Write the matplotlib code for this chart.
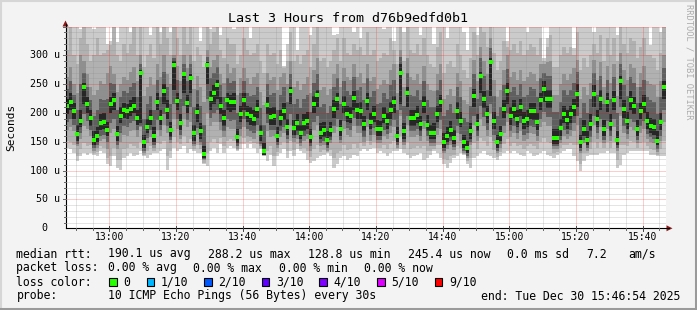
import numpy as np
import matplotlib
matplotlib.use("Agg")
import matplotlib.pyplot as plt
from matplotlib.patches import Rectangle, Polygon

W, H, DPI = 697, 310, 100
MONO = "DejaVu Sans Mono"

title = "Last 3 Hours from d76b9edfd0b1"
span_min = 180.0          # 12:46:54 -> 15:46:54
step_min = 1.0
x_tick_offsets = [13.1, 33.1, 53.1, 73.1, 93.1, 113.1, 133.1, 153.1, 173.1]
x_tick_labels = ["13:00", "13:20", "13:40", "14:00", "14:20", "14:40", "15:00", "15:20", "15:40"]
y_tick_values = [0, 50, 100, 150, 200, 250, 300]
y_tick_labels = ["0", "50 u", "100 u", "150 u", "200 u", "250 u", "300 u"]
y_max = 350.0

# median rtt (microseconds), one per minute
med = [213,220,204,163,187,246,215,191,154,160, 183,184,170,216,222,164,195,205,203,207, 213,191,270,149,175,191,160,219,192,239,
       205,170,283,221,182,267,218,260,166,201, 169,129,283,225,235,248,213,191,222,219, 220,159,199,222,198,195,190,207,166,134,
       214,194,195,160,191,203,175,239,174,182, 166,182,187,159,216,232,166,170,154,170, 207,225,172,216,199,195,226,205,204,181,
       221,185,199,172,172,195,187,205,219,160, 269,168,235,191,191,197,181,216,180,166, 166,199,219,149,160,170,156,204,187,149,
       139,168,230,181,264,225,198,288,187,149, 163,207,239,195,207,190,210,187,190,204, 203,184,222,242,225,225,157,157,174,198,
       188,198,210,233,149,172,154,181,233,190, 225,172,219,181,222,154,255,207,187,222, 213,172,204,216,187,178,175,152,185,245]

# outermost smoke (min / max ping)
smoke_min = [140,137,131,116,125,131,128,131,128,125, 134,131,111,108,125,105,102,122,125,131, 125,128,134,125,122,128,131,131,134,137,
             102,122,140,134,137,143,131,137,134,131, 131,111,108,134,140,131,146,131,140,143, 140,134,137,146,140,146,140,131,137,125,
             116,128,108,125,131,137,122,134,125,137, 134,131,119,113,116,122,125,128,131,125, 105,111,122,125,119,122,128,125,134,137,
             134,137,140,131,134,131,125,131,134,134, 137,131,128,122,125,128,131,119,122,128, 134,131,122,111,105,113,122,125,131,128,
             111,105,122,125,131,134,128,125,122,119, 125,131,134,131,134,131,128,125,134,131, 125,128,131,134,128,125,122,128,131,134,
             137,137,125,116,99,116,125,128,128,128, 131,131,134,131,131,105,110,128,131,134, 134,134,134,134,134,128,128,125,125,125]
smoke_max = [400,400,400,400,345,400,400,400,345,400, 400,400,320,325,400,324,400,400,400,340, 400,400,400,400,400,335,400,400,340,400,
             400,340,400,400,400,400,400,400,400,400, 325,400,400,345,400,400,335,400,400,400, 345,400,400,400,400,330,400,400,400,400,
             400,400,400,400,400,282,320,400,400,310, 400,400,400,335,400,400,400,400,400,400, 335,338,400,400,400,400,340,400,330,400,
             400,400,400,400,400,345,400,400,325,400, 400,340,400,400,400,400,335,400,400,400, 320,400,400,400,330,400,400,400,400,340,
             310,400,400,335,400,400,400,400,400,400, 400,400,325,400,400,400,400,400,340,400, 400,400,400,295,330,400,400,400,400,400,
             400,400,312,400,400,400,400,400,340,400, 400,400,400,400,400,335,400,400,400,400, 400,400,400,400,400,318,400,400,340,400]

# second smoke layer
l2_lo = [152,150,145,126,138,148,142,145,131,132, 142,140,122,125,140,118,118,138,140,146, 142,140,150,127,134,142,135,148,146,152,
         125,135,158,150,146,160,148,155,138,144, 138,114,130,150,155,148,156,142,152,155, 152,136,146,156,150,152,148,146,139,126,
         135,142,125,132,144,150,135,152,136,146, 138,140,134,124,138,145,133,136,133,136, 122,130,134,144,136,138,146,140,148,143,
         152,144,150,139,140,145,138,146,152,137, 160,138,150,138,140,143,140,142,135,135, 138,145,145,120,118,126,128,142,140,129,
         116,122,148,138,156,152,142,158,136,124, 132,146,155,142,148,142,145,138,143,146, 142,138,150,156,150,148,130,132,139,145,
         145,148,145,145,112,130,130,138,150,140, 150,139,150,140,150,118,145,145,142,152, 150,140,148,150,143,138,136,128,137,152]
l2_hi = [310,360,300,285,330,360,320,290,300,330, 300,305,310,318,360,300,290,320,305,320, 350,300,360,280,300,320,295,360,320,360,
         330,300,360,330,300,360,320,360,290,315, 300,280,360,320,340,360,310,295,330,320, 320,285,300,330,310,300,305,320,290,270,
         320,300,305,285,310,278,290,340,290,300, 285,300,310,280,320,350,290,295,280,290, 310,330,290,330,305,300,320,310,315,300,
         340,300,310,290,295,305,300,330,310,285, 360,290,350,310,305,320,300,330,300,285, 280,315,340,270,285,290,280,320,300,275,
         260,295,340,300,360,340,315,360,305,275, 290,325,315,310,320,305,325,300,310,320, 315,300,330,290,315,335,280,280,300,315,
         305,315,300,340,275,295,280,300,320,305, 335,290,330,300,330,290,350,320,305,330, 325,295,315,330,300,300,295,275,305,350]

# middle smoke layer
mid_lo = [170,175,168,142,155,178,172,160,135,140, 152,155,138,165,172,138,150,162,160,168, 170,158,175,130,148,158,140,170,160,180,
          165,148,190,172,155,190,175,185,142,162, 145,118,200,178,185,185,170,158,175,172, 172,138,160,175,160,158,155,168,142,128,
          168,158,160,140,158,165,148,180,150,155, 142,152,155,135,170,180,142,145,135,148, 165,175,148,172,162,158,178,165,166,150,
          175,152,162,148,148,160,155,165,175,140, 195,145,180,158,158,162,152,172,152,142, 142,162,172,130,138,145,136,165,152,130,
          122,145,180,152,190,178,160,200,152,130, 140,165,185,158,165,155,168,152,155,165, 163,152,175,185,178,178,138,138,148,160,
          155,160,168,180,130,148,135,150,180,155, 175,148,172,152,175,135,195,165,155,175, 170,148,165,172,155,150,148,132,152,185]
mid_hi = [262,280,250,235,300,290,268,246,232,240, 255,250,270,282,268,236,250,262,258,272, 280,255,300,230,245,262,248,285,262,300,
          268,250,300,282,256,300,278,300,242,265, 245,220,310,280,292,300,268,252,285,270, 278,232,260,278,260,250,262,270,236,214,
          270,258,262,240,262,270,250,290,245,255, 240,250,262,235,275,295,240,246,232,242, 268,285,245,278,262,258,285,262,270,252,
          285,255,262,242,248,258,250,275,285,235, 310,245,295,262,258,268,250,282,250,240, 238,268,285,225,232,242,230,270,255,222,
          215,245,292,255,315,290,268,330,258,228, 240,275,300,262,272,258,275,255,262,272, 268,255,285,285,288,290,232,232,250,268,
          258,268,278,292,225,246,232,252,292,258, 288,245,282,252,285,230,305,275,258,285, 278,246,270,282,255,250,248,228,256,300]

# fourth smoke layer
in_lo = [185,190,180,147,165,198,186,170,140,145, 160,162,150,182,190,145,166,178,175,182, 186,170,178,135,156,170,145,188,170,198,
         178,153,215,190,162,212,188,210,147,174, 150,120,225,192,200,205,184,168,190,187, 188,143,172,190,172,169,166,180,147,128,
         183,170,170,145,168,176,155,198,156,162, 148,160,164,142,185,195,148,152,140,153, 178,190,154,186,174,170,192,178,178,159,
         190,162,174,154,154,171,164,178,188,145, 205,150,195,168,168,172,160,186,160,148, 148,174,188,135,144,152,141,178,164,135,
         126,150,195,160,212,193,171,215,162,135, 146,178,200,169,178,165,182,162,165,178, 175,161,190,202,193,193,142,142,154,171,
         164,171,182,195,135,154,140,159,195,165, 190,154,187,160,190,140,210,178,164,190, 184,154,178,186,164,158,155,138,161,205]
in_hi = [242,255,232,205,250,270,245,222,195,205, 225,222,225,252,250,205,228,238,235,245, 252,228,285,190,215,230,205,258,228,272,
         245,215,295,258,225,285,255,285,210,240, 212,180,298,260,270,280,248,228,260,252, 255,200,235,255,235,230,232,245,208,180,
         250,232,235,205,232,245,220,268,215,225, 208,225,232,202,252,268,210,215,200,212, 245,260,215,255,238,232,262,240,245,222,
         260,228,238,215,218,235,225,248,258,205, 298,212,270,232,230,240,222,255,222,210, 210,240,258,195,205,215,200,245,228,192,
         185,212,268,225,295,265,240,312,230,195, 210,248,276,236,246,232,250,228,232,245, 242,228,260,270,265,265,202,202,220,240,
         232,240,252,272,192,218,200,225,270,232, 265,216,258,225,262,200,285,248,230,262, 252,218,245,258,228,222,220,198,228,278]

# inner (darkest) smoke layer
core_lo = [198,205,190,152,176,215,200,178,145,150, 170,172,160,200,205,152,182,192,190,195, 200,180,182,140,165,180,150,205,180,215,
           190,158,240,205,170,235,200,235,152,185, 155,122,250,205,215,225,198,178,205,202, 205,148,185,205,185,180,178,192,152,128,
           198,180,180,150,178,188,162,215,162,168, 155,168,172,148,200,210,155,158,145,158, 192,205,160,200,185,182,205,190,190,168,
           205,172,185,160,160,182,172,190,200,150, 215,155,210,178,178,182,168,200,168,155, 155,185,202,140,150,158,146,190,175,140,
           130,155,210,168,235,208,182,230,172,140, 152,192,215,180,192,175,195,172,175,190, 188,170,205,220,208,208,146,146,160,182,
           172,182,195,210,140,160,144,168,210,175, 205,160,202,168,205,144,225,192,172,205, 198,160,190,200,172,165,162,144,170,225]
core_hi = [225,235,218,180,205,252,228,205,168,175, 198,200,185,228,235,178,210,218,215,222, 228,205,275,162,190,205,175,235,205,250,
           222,185,290,235,198,272,232,268,180,215, 182,142,288,238,248,258,228,205,235,232, 235,172,212,235,212,210,205,222,180,148,
           228,208,210,175,205,218,190,245,188,198, 180,198,202,172,230,240,182,185,168,185, 222,235,188,230,212,210,238,218,220,195,
           235,200,212,188,186,210,200,220,230,175, 285,182,245,205,205,212,195,230,196,180, 182,212,232,165,176,186,170,220,202,162,
           152,182,242,198,272,238,212,295,202,162, 178,222,252,210,222,205,225,202,205,218, 218,200,235,255,240,240,172,172,190,212,
           205,212,225,250,162,188,168,198,248,205, 240,188,235,198,238,168,265,222,202,238, 228,188,218,232,202,192,190,168,200,255]

legend_rows = [
    [(16.4, "median rtt:"), (107.6, "190.1 us avg"), (207.6, "288.2 us max"), (307.6, "128.8 us min"),
     (407.6, "245.4 us now"), (506.7, "0.0 ms sd"), (585.8, "7.2"), (628.0, "am/s")],
    [(16.4, "packet loss:"), (107.6, "0.00 % avg"), (193.3, "0.00 % max"), (279.0, "0.00 % min"), (364.4, "0.00 % now")],
]
loss_labels = ["0", "1/10", "2/10", "3/10", "4/10", "5/10", "9/10"]
loss_colors = ["#26ff00", "#00b8ff", "#0059ff", "#5e00ff", "#7e00ff", "#dd00ff", "#ff0000"]
probe_text = "10 ICMP Echo Pings (56 Bytes) every 30s"
end_text = "end: Tue Dec 30 15:46:54 2025"

# ---------------- figure ----------------
fig = plt.figure(figsize=(W / DPI, H / DPI), dpi=DPI, facecolor="#f3f3f3")
L, R, B, T = 65.5, 665.5, 228.3, 26.6
ax = fig.add_axes([L / W, (H - B) / H, (R - L) / W, (B - T) / H])
ax.set_facecolor("white")
ax.set_xlim(0, span_min)
ax.set_ylim(0, y_max)
for s in ax.spines.values():
    s.set_visible(False)
ax.set_xticks([]); ax.set_yticks([])

n = len(med)
xe = np.arange(n + 1) * step_min

def band(lo, hi, color, z):
    lo = np.asarray(lo, float); hi = np.asarray(hi, float)
    ax.fill_between(xe, np.append(lo, lo[-1]), np.append(hi, hi[-1]), step="post",
                    color=color, linewidth=0, zorder=z)

band(smoke_min, smoke_max, "#cbcbcb", 1.0)
band(l2_lo, l2_hi, "#b1b1b1", 1.1)
band(mid_lo, mid_hi, "#8f8f8f", 1.2)
band(in_lo, in_hi, "#5f5f5f", 1.3)
band(core_lo, core_hi, "#262626", 1.4)

# grid (drawn over smoke, like rrdtool)
dot = (0, (1, 1))
minor_x = np.arange(3.1, span_min, 5.0)
for t in minor_x:
    if not any(abs(t - m) < 0.01 for m in x_tick_offsets):
        ax.axvline(t, color=(0.55, 0.55, 0.55, 0.45), lw=0.72, ls=dot, zorder=3)
for t in x_tick_offsets:
    ax.axvline(t, color=(1, 0, 0, 0.4), lw=0.72, ls=dot, zorder=3)
for v in range(10, 351, 10):
    if v % 50:
        ax.axhline(v, color=(0.55, 0.55, 0.55, 0.45), lw=0.72, ls=dot, zorder=3)
    else:
        ax.axhline(v, color=(1, 0, 0, 0.4), lw=0.72, ls=dot, zorder=3)

# median markers
ax.plot(np.arange(n) * step_min + 0.5 * step_min, med, "s", color="#26ff00",
        ms=2.3, mew=0, zorder=5)

# ---------------- overlay in pixel coordinates ----------------
ov = fig.add_axes([0, 0, 1, 1], facecolor="none")
ov.set_xlim(0, W); ov.set_ylim(H, 0); ov.axis("off")

def px_x(t):
    return L + t / span_min * (R - L)

def px_y(v):
    return B - v / y_max * (B - T)

# frame
ov.plot([1, W - 1], [1, 1], color="#d6d6d6", lw=1.5)
ov.plot([1, 1], [1, H - 1], color="#d6d6d6", lw=1.5)
ov.plot([0, W], [H - 1.5, H - 1.5], color="#9a9a9a", lw=2.2)
ov.plot([W - 1.5, W - 1.5], [0, H], color="#9a9a9a", lw=2.2)

# axis lines and arrows
ov.plot([L, L], [B, 24], color="black", lw=0.8)
ov.plot([L, 669], [B, B], color="black", lw=0.8)
ov.add_patch(Polygon([[L - 3, 26.5], [L + 3, 26.5], [L, 20.5]], closed=True, color="#8b1a1a", lw=0))
ov.add_patch(Polygon([[666.5, B - 3], [666.5, B + 3], [672.5, B]], closed=True, color="#8b1a1a", lw=0))

# ticks
for t in minor_x:
    ov.plot([px_x(t), px_x(t)], [B, B + 2], color="#666666", lw=0.7)
for t in x_tick_offsets:
    ov.plot([px_x(t), px_x(t)], [B - 2, B + 3], color="#444444", lw=0.7)
for v in range(10, 351, 10):
    ln = 3 if v % 50 == 0 else 2
    ov.plot([L - ln, L], [px_y(v), px_y(v)], color="#666666", lw=0.7)

# tick labels
for t, lab in zip(x_tick_offsets, x_tick_labels):
    ov.text(px_x(t), 237.5, lab, ha="center", va="center", fontsize=7, family=MONO, color="black")
for v, lab in zip(y_tick_values, y_tick_labels):
    xr = 47.5 if v == 0 else 60.5
    ov.text(xr, px_y(v), lab, ha="right", va="center", fontsize=7.2, family=MONO, color="black")

ov.text(11, 127, "Seconds", rotation=90, ha="center", va="center", fontsize=8, family=MONO)
ov.text(W / 2, 19, title, ha="center", va="center", fontsize=9.6, family=MONO)
ov.text(688.5, 4, "RRDTOOL / TOBI OETIKER", rotation=-90, ha="center", va="top",
        fontsize=6.3, family=MONO, color="#acacac")

# legend
row_y = [254, 268, 282, 296]
for yy, row in zip(row_y[:2], legend_rows):
    for xx, txt in row:
        ov.text(xx, yy, txt, ha="left", va="center", fontsize=8.3, family=MONO)

ov.text(16.4, row_y[2], "loss color:", ha="left", va="center", fontsize=8.3, family=MONO)
box_x = [109, 146.5, 204, 261.5, 319, 377, 434.5]
lab_x = [123.5, 160.5, 218, 276, 333.5, 391, 449]
for bx, lx, c, lab in zip(box_x, lab_x, loss_colors, loss_labels):
    ov.add_patch(Rectangle((bx, row_y[2] - 4), 7.5, 8, facecolor=c, edgecolor="black", lw=0.8))
    ov.text(lx, row_y[2], lab, ha="left", va="center", fontsize=8.3, family=MONO)

ov.text(16.4, row_y[3], "probe:", ha="left", va="center", fontsize=8.3, family=MONO)
ov.text(107.6, row_y[3], probe_text, ha="left", va="center", fontsize=8.3, family=MONO)
ov.text(680, row_y[3], end_text, ha="right", va="center", fontsize=8.3, family=MONO)

fig.savefig("out.png", dpi=DPI, facecolor=fig.get_facecolor())
